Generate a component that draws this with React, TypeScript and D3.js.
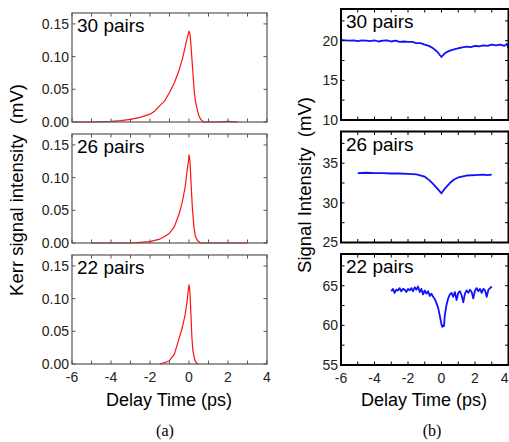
import React from "react";
import * as d3 from "d3";

// ---------- data ----------
const panelLabels = ["30 pairs", "26 pairs", "22 pairs"];

// (a) Kerr signal [t (ps), value (mV)]
const kerr30: [number, number][] = [
  [-5.85, 0], [-5, 0], [-4, 0.001], [-3.5, 0.002], [-3, 0.004], [-2.5, 0.007], [-2, 0.012],
  [-1.75, 0.017], [-1.5, 0.025], [-1.25, 0.032], [-1, 0.045], [-0.75, 0.06], [-0.5, 0.08],
  [-0.35, 0.095], [-0.2, 0.114], [-0.1, 0.128], [0, 0.139], [0.05, 0.135], [0.1, 0.118],
  [0.17, 0.088], [0.26, 0.05], [0.33, 0.032], [0.4, 0.022], [0.5, 0.01], [0.6, 0.004],
  [0.75, 0], [1.5, 0], [2.0, 0.001], [2.5, 0],
];
const kerr26: [number, number][] = [
  [-5, 0], [-3, 0], [-2.5, 0.001], [-2, 0.002], [-1.5, 0.006], [-1.25, 0.01], [-1, 0.015],
  [-0.75, 0.025], [-0.5, 0.045], [-0.35, 0.062], [-0.2, 0.085], [-0.1, 0.11], [-0.03, 0.125],
  [0, 0.135], [0.05, 0.125], [0.1, 0.095], [0.17, 0.055], [0.25, 0.025], [0.33, 0.01],
  [0.45, 0.003], [0.6, 0], [3, 0],
];
const kerr22: [number, number][] = [
  [-1.5, 0], [-1.25, 0.002], [-1, 0.005], [-0.75, 0.015], [-0.5, 0.04], [-0.35, 0.055],
  [-0.2, 0.075], [-0.1, 0.095], [-0.03, 0.115], [0, 0.121], [0.05, 0.11], [0.1, 0.075],
  [0.15, 0.04], [0.2, 0.02], [0.3, 0.006], [0.4, 0.001], [0.5, 0],
];

// (b) Signal intensity [t (ps), value (mV)]
const sig30: [number, number][] = [
  [-6, 20.1], [-5.75, 20.05], [-5.5, 20.0], [-5.25, 20.05], [-5, 19.95], [-4.75, 20.05],
  [-4.5, 20.0], [-4.25, 19.95], [-4, 20.05], [-3.75, 19.9], [-3.5, 20.0], [-3.25, 20.05],
  [-3, 19.9], [-2.75, 20.0], [-2.5, 19.85], [-2.25, 19.9], [-2, 19.85], [-1.75, 19.85],
  [-1.5, 19.7], [-1.25, 19.7], [-1, 19.5], [-0.75, 19.35], [-0.5, 19.05], [-0.25, 18.6],
  [-0.1, 18.2], [0, 17.95], [0.1, 18.2], [0.25, 18.5], [0.5, 18.75], [0.75, 18.9],
  [1, 19.05], [1.25, 19.15], [1.5, 19.25], [1.75, 19.2], [2, 19.35], [2.25, 19.3],
  [2.5, 19.4], [2.75, 19.35], [3, 19.5], [3.25, 19.4], [3.5, 19.5], [3.75, 19.35],
  [3.9, 19.6], [4, 19.1],
];
const sig26: [number, number][] = [
  [-5, 33.75], [-4.5, 33.8], [-4, 33.75], [-3.5, 33.75], [-3, 33.7], [-2.5, 33.7],
  [-2, 33.65], [-1.5, 33.6], [-1, 33.3], [-0.75, 32.9], [-0.5, 32.4], [-0.25, 31.8],
  [0, 31.2], [0.2, 31.8], [0.5, 32.5], [0.75, 32.95], [1, 33.2], [1.5, 33.45], [2, 33.5],
  [2.5, 33.55], [2.75, 33.5], [3, 33.55],
];
const sig22: [number, number][] = [
  [-3, 64.3], [-2.9, 64.6], [-2.8, 64.1], [-2.7, 64.5], [-2.6, 64.4], [-2.5, 64.7],
  [-2.4, 64.3], [-2.3, 64.6], [-2.2, 64.5], [-2.1, 64.2], [-2.0, 64.6], [-1.9, 64.4],
  [-1.8, 64.7], [-1.7, 64.3], [-1.6, 64.8], [-1.5, 64.5], [-1.4, 64.9], [-1.3, 64.2],
  [-1.2, 64.6], [-1.1, 63.9], [-1.0, 64.4], [-0.9, 64.0], [-0.8, 64.3], [-0.7, 63.7],
  [-0.6, 64.0], [-0.5, 63.6], [-0.4, 63.3], [-0.3, 62.8], [-0.2, 62.2], [-0.1, 61.2],
  [0.0, 60.1], [0.05, 59.8], [0.1, 60.0], [0.15, 59.9], [0.2, 61.3], [0.3, 62.6],
  [0.4, 63.4], [0.5, 63.9], [0.6, 64.1], [0.7, 63.6], [0.8, 64.2], [0.9, 63.2],
  [1.0, 64.1], [1.1, 64.3], [1.2, 63.8], [1.3, 62.9], [1.4, 64.0], [1.5, 64.4],
  [1.6, 64.1], [1.7, 64.5], [1.8, 64.2], [1.9, 63.4], [2.0, 64.4], [2.1, 64.7],
  [2.2, 64.3], [2.3, 64.6], [2.4, 64.1], [2.5, 64.6], [2.6, 64.4], [2.7, 63.6],
  [2.8, 64.5], [2.9, 64.7], [3.0, 64.9],
];

const xTicks = [-6, -4, -2, 0, 2, 4];
const kerrTicks = [0, 0.05, 0.1, 0.15];
const sigTicks: number[][] = [[10, 15, 20], [25, 30, 35], [55, 60, 65]];
const sigDomains: [number, number][] = [[10, 24], [25, 39], [55, 69]];

const kerrSeries = [kerr30, kerr26, kerr22];
const sigSeries = [sig30, sig26, sig22];

// ---------- layout ----------
const W = 509, H = 442;
const panelTops = [13, 134, 255];
const panelTopsB = [9, 131.5, 254];
const panelH = 109;
const panelHB = 111;
const FONT = "'Liberation Sans', Arial, sans-serif";

type PanelProps = {
  x0: number; x1: number; top: number; h: number;
  yDomain: [number, number]; yTicks: number[]; yMinorStep: number;
  data: [number, number][]; color: string; lw: number;
  frameColor: string; frameW: number; label: string;
  fmt: (v: number) => string; showX: boolean; clipLast: boolean;
};

function Panel(p: PanelProps) {
  const x = d3.scaleLinear().domain([-6, 4]).range([p.x0, p.x1]);
  const y = d3.scaleLinear().domain(p.yDomain).range([p.top + p.h, p.top]);
  const line = d3.line<[number, number]>().x((d) => x(d[0])).y((d) => y(d[1]));
  const minorX = d3.range(-6, 4.001, 1);
  const minorY = d3.range(p.yDomain[0], p.yDomain[1] + 1e-9, p.yMinorStep);
  const tl = 3.5;
  const bottom = p.top + p.h;
  return (
    <g>
      <path d={line(p.data) || ""} fill="none" stroke={p.color} strokeWidth={p.lw} strokeLinejoin="round" />
      {minorX.map((v, i) => (
        <g key={"mx" + i}>
          <line x1={x(v)} x2={x(v)} y1={bottom} y2={bottom - tl} stroke={p.frameColor} strokeWidth={1} />
          <line x1={x(v)} x2={x(v)} y1={p.top} y2={p.top + tl} stroke={p.frameColor} strokeWidth={1} />
        </g>
      ))}
      {minorY.map((v, i) => (
        <g key={"my" + i}>
          <line x1={p.x0} x2={p.x0 + tl} y1={y(v)} y2={y(v)} stroke={p.frameColor} strokeWidth={1} />
          <line x1={p.x1} x2={p.x1 - tl} y1={y(v)} y2={y(v)} stroke={p.frameColor} strokeWidth={1} />
        </g>
      ))}
      <rect x={p.x0} y={p.top} width={p.x1 - p.x0} height={p.h} fill="none" stroke={p.frameColor} strokeWidth={p.frameW} />
      {p.yTicks.map((v, i) => (
        <text key={"yt" + i} x={p.x0 - 3} y={y(v)} dy="0.35em" textAnchor="end" fontSize={14} fill="#222" fontFamily={FONT}>
          {p.fmt(v)}
        </text>
      ))}
      {p.showX && xTicks.map((v, i) => {
        const last = p.clipLast && i === xTicks.length - 1;
        return (
          <text key={"xt" + i} x={last ? W - 0.5 : x(v)} y={bottom + 18} textAnchor={last ? "end" : "middle"} fontSize={14} fill="#222" fontFamily={FONT}>
            {String(v)}
          </text>
        );
      })}
      <text x={p.x0 + 5} y={p.top + 19} fontSize={19} fill="#000" fontFamily={FONT}>{p.label}</text>
    </g>
  );
}

export default function App() {
  return (
    <svg width={W} height={H} style={{ position: "absolute", left: 0, top: 0, background: "#fff" }}>
      {kerrSeries.map((d, i) => (
        <Panel key={"a" + i} x0={72} x1={267} top={panelTops[i]} h={panelH}
          yDomain={[0, 0.1667]} yTicks={kerrTicks} yMinorStep={0.05}
          data={d} color="#ff1010" lw={1.2} frameColor="#555" frameW={1.2}
          label={panelLabels[i]} fmt={d3.format(".2f")} showX={i === 2} clipLast={false} />
      ))}
      {sigSeries.map((d, i) => (
        <Panel key={"b" + i} x0={341} x1={508.5} top={panelTopsB[i]} h={panelHB}
          yDomain={sigDomains[i]} yTicks={sigTicks[i]} yMinorStep={2.5}
          data={d} color="#1010ff" lw={1.8} frameColor="#000" frameW={2}
          label={panelLabels[i]} fmt={d3.format("d")} showX={i === 2} clipLast={true} />
      ))}
      <text transform="translate(23,190) rotate(-90)" textAnchor="middle" fontSize={18.5} fill="#000" fontFamily={FONT} style={{ whiteSpace: "pre" }}>
        {"Kerr signal intensity  (mV)"}
      </text>
      <text transform="translate(311,185) rotate(-90)" textAnchor="middle" fontSize={18.5} fill="#000" fontFamily={FONT} style={{ whiteSpace: "pre" }}>
        {"Signal Intensity  (mV)"}
      </text>
      <text x={169} y={406} textAnchor="middle" fontSize={18} fill="#000" fontFamily={FONT}>Delay Time (ps)</text>
      <text x={424} y={406} textAnchor="middle" fontSize={18} fill="#000" fontFamily={FONT}>Delay Time (ps)</text>
      <text x={165} y={436} textAnchor="middle" fontSize={16} fill="#000" fontFamily="'Liberation Serif', 'Times New Roman', serif">(a)</text>
      <text x={432} y={436} textAnchor="middle" fontSize={16} fill="#000" fontFamily="'Liberation Serif', 'Times New Roman', serif">(b)</text>
    </svg>
  );
}
